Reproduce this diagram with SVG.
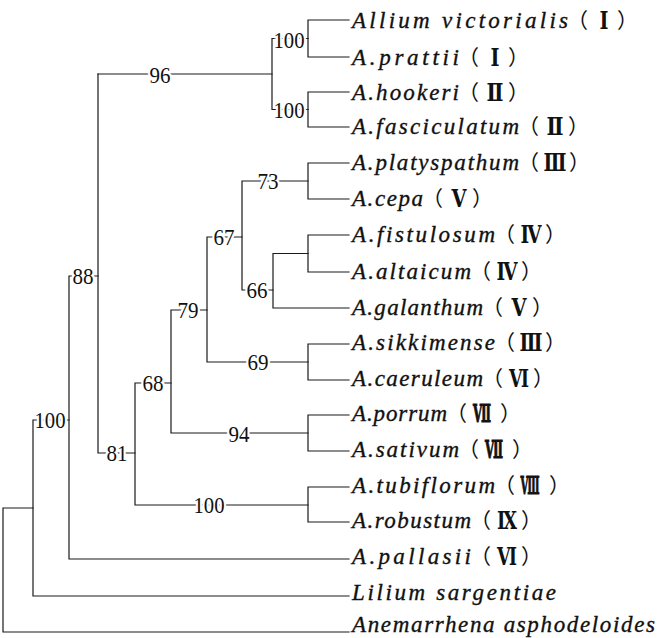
<svg xmlns="http://www.w3.org/2000/svg" width="665" height="638" viewBox="0 0 665 638">
  <style>
    .br { fill: none; stroke: #1a1a1a; stroke-width: 1.2; stroke-linecap: square; }
    .bs { font-family: "Liberation Serif", "Times New Roman", serif; font-size: 24px; fill: #111; text-anchor: middle; stroke: #fff; stroke-width: 5; paint-order: stroke; stroke-linejoin: round; }
    .sp { font-family: "Liberation Serif", "Times New Roman", serif; font-style: italic; font-size: 23px; fill: #111; stroke: #111; stroke-width: 0.35; }
    .pa { font-family: "Noto Sans CJK SC", sans-serif; font-size: 21px; fill: #111; }
    .rn { font-family: "Liberation Serif", "DejaVu Serif", "Noto Sans CJK SC", serif; font-weight: bold; font-size: 24px; fill: #111; text-anchor: middle; }
    .rn.hv { stroke: #111; stroke-width: 1.1; }
  </style>
  <rect width="665" height="638" fill="#fff"/>

  <!-- branches -->
  <g id="connectors" class="br">
    <!-- terminal pairs -->
    <path d="M349 20 H308 V57 H349"/>
    <path d="M349 92 H308 V127 H349"/>
    <path d="M349 163 H308 V199 H349"/>
    <path d="M349 235 H308 V272 H349"/>
    <path d="M349 344 H308 V380 H349"/>
    <path d="M349 415 H308 V451 H349"/>
    <path d="M349 487 H308 V522 H349"/>
    <!-- victorialis / hookeri clade -->
    <path d="M308 38.5 H272 V109.5 H308"/>
    <path d="M272 74 H98"/>
    <!-- cepa, porrum and tubiflorum groups -->
    <path d="M308 181 H242 V290 H273"/>
    <path d="M308 253.5 H273 V308 H349"/>
    <path d="M242 237 H207 V362 H308"/>
    <path d="M207 310 H171 V433 H308"/>
    <path d="M171 383 H135 V505 H308"/>
    <path d="M135 453 H98 V74"/>
    <!-- outgroups -->
    <path d="M98 276 H69 V559 H349"/>
    <path d="M69 420 H33 V596 H349"/>
    <path d="M33 508 H3 V632 H349"/>
  </g>

  <!-- support values -->
  <g id="support">
    <g id="n-96"><text class="bs" x="160" y="83" textLength="21" lengthAdjust="spacingAndGlyphs">96</text></g>
    <g id="n-100a"><text class="bs" x="289" y="48" textLength="31" lengthAdjust="spacingAndGlyphs">100</text></g>
    <g id="n-100b"><text class="bs" x="289" y="118" textLength="31" lengthAdjust="spacingAndGlyphs">100</text></g>
    <g id="n-73"><text class="bs" x="268" y="189" textLength="21" lengthAdjust="spacingAndGlyphs">73</text></g>
    <g id="n-67"><text class="bs" x="224" y="245" textLength="21" lengthAdjust="spacingAndGlyphs">67</text></g>
    <g id="n-66"><text class="bs" x="257" y="298" textLength="21" lengthAdjust="spacingAndGlyphs">66</text></g>
    <g id="n-79"><text class="bs" x="188" y="318" textLength="21" lengthAdjust="spacingAndGlyphs">79</text></g>
    <g id="n-69"><text class="bs" x="258" y="370" textLength="21" lengthAdjust="spacingAndGlyphs">69</text></g>
    <g id="n-68"><text class="bs" x="153" y="391" textLength="21" lengthAdjust="spacingAndGlyphs">68</text></g>
    <g id="n-94"><text class="bs" x="239" y="442" textLength="21" lengthAdjust="spacingAndGlyphs">94</text></g>
    <g id="n-81"><text class="bs" x="117" y="461" textLength="21" lengthAdjust="spacingAndGlyphs">81</text></g>
    <g id="n-100c"><text class="bs" x="209" y="513" textLength="31" lengthAdjust="spacingAndGlyphs">100</text></g>
    <g id="n-88"><text class="bs" x="83" y="284" textLength="21" lengthAdjust="spacingAndGlyphs">88</text></g>
    <g id="n-100d"><text class="bs" x="50" y="428" textLength="31" lengthAdjust="spacingAndGlyphs">100</text></g>
  </g>

  <!-- taxa: name, then clade numeral in brackets -->
  <g id="taxa">
    <g id="t-victorialis"><text class="sp" x="352" y="28" textLength="216">Allium victorialis</text><text class="pa" x="567" y="28">（</text><text class="rn" x="604" y="29" textLength="9" lengthAdjust="spacingAndGlyphs">Ⅰ</text><text class="pa" x="617" y="28">）</text></g>
    <g id="t-prattii"><text class="sp" x="352" y="65" textLength="107">A.prattii</text><text class="pa" x="458" y="65">（</text><text class="rn" x="495" y="66" textLength="9" lengthAdjust="spacingAndGlyphs">Ⅰ</text><text class="pa" x="508" y="65">）</text></g>
    <g id="t-hookeri"><text class="sp" x="352" y="100" textLength="107">A.hookeri</text><text class="pa" x="458" y="100">（</text><text class="rn" x="495" y="101" textLength="17" lengthAdjust="spacingAndGlyphs">Ⅱ</text><text class="pa" x="508" y="100">）</text></g>
    <g id="t-fasciculatum"><text class="sp" x="352" y="134" textLength="167">A.fasciculatum</text><text class="pa" x="518" y="134">（</text><text class="rn" x="555" y="135" textLength="17" lengthAdjust="spacingAndGlyphs">Ⅱ</text><text class="pa" x="568" y="134">）</text></g>
    <g id="t-platyspathum"><text class="sp" x="352" y="170" textLength="167">A.platyspathum</text><text class="pa" x="518" y="170">（</text><text class="rn" x="555" y="171" textLength="23" lengthAdjust="spacingAndGlyphs">Ⅲ</text><text class="pa" x="569" y="170">）</text></g>
    <g id="t-cepa"><text class="sp" x="352" y="206" textLength="71">A.cepa</text><text class="pa" x="422" y="206">（</text><text class="rn" x="459" y="207" textLength="15" lengthAdjust="spacingAndGlyphs">Ⅴ</text><text class="pa" x="472" y="206">）</text></g>
    <g id="t-fistulosum"><text class="sp" x="352" y="242" textLength="143">A.fistulosum</text><text class="pa" x="494" y="242">（</text><text class="rn" x="531" y="243" textLength="21" lengthAdjust="spacingAndGlyphs">Ⅳ</text><text class="pa" x="545" y="242">）</text></g>
    <g id="t-altaicum"><text class="sp" x="352" y="279" textLength="119">A.altaicum</text><text class="pa" x="470" y="279">（</text><text class="rn" x="507" y="280" textLength="21" lengthAdjust="spacingAndGlyphs">Ⅳ</text><text class="pa" x="521" y="279">）</text></g>
    <g id="t-galanthum"><text class="sp" x="352" y="315" textLength="131">A.galanthum</text><text class="pa" x="482" y="315">（</text><text class="rn" x="519" y="316" textLength="15" lengthAdjust="spacingAndGlyphs">Ⅴ</text><text class="pa" x="532" y="315">）</text></g>
    <g id="t-sikkimense"><text class="sp" x="352" y="350" textLength="143">A.sikkimense</text><text class="pa" x="494" y="350">（</text><text class="rn" x="531" y="351" textLength="23" lengthAdjust="spacingAndGlyphs">Ⅲ</text><text class="pa" x="545" y="350">）</text></g>
    <g id="t-caeruleum"><text class="sp" x="352" y="386" textLength="131">A.caeruleum</text><text class="pa" x="482" y="386">（</text><text class="rn" x="519" y="387" textLength="20" lengthAdjust="spacingAndGlyphs">Ⅵ</text><text class="pa" x="533" y="386">）</text></g>
    <g id="t-porrum"><text class="sp" x="352" y="421" textLength="95">A.porrum</text><text class="pa" x="446" y="421">（</text><text class="rn hv" x="482" y="422" textLength="18" lengthAdjust="spacingAndGlyphs">Ⅶ</text><text class="pa" x="500" y="421">）</text></g>
    <g id="t-sativum"><text class="sp" x="352" y="457" textLength="107">A.sativum</text><text class="pa" x="458" y="457">（</text><text class="rn hv" x="494" y="458" textLength="18" lengthAdjust="spacingAndGlyphs">Ⅶ</text><text class="pa" x="512" y="457">）</text></g>
    <g id="t-tubiflorum"><text class="sp" x="352" y="493" textLength="143">A.tubiflorum</text><text class="pa" x="494" y="493">（</text><text class="rn hv" x="530" y="494" textLength="19" lengthAdjust="spacingAndGlyphs">Ⅷ</text><text class="pa" x="549" y="493">）</text></g>
    <g id="t-robustum"><text class="sp" x="352" y="528" textLength="119">A.robustum</text><text class="pa" x="470" y="528">（</text><text class="rn" x="507" y="529" textLength="20" lengthAdjust="spacingAndGlyphs">Ⅸ</text><text class="pa" x="521" y="528">）</text></g>
    <g id="t-pallasii"><text class="sp" x="352" y="564" textLength="119">A.pallasii</text><text class="pa" x="470" y="564">（</text><text class="rn" x="507" y="565" textLength="20" lengthAdjust="spacingAndGlyphs">Ⅵ</text><text class="pa" x="521" y="564">）</text></g>
    <g id="t-lilium"><text class="sp" x="352" y="600" textLength="204">Lilium sargentiae</text></g>
    <g id="t-anemarrhena"><text class="sp" x="352" y="632" textLength="303">Anemarrhena asphodeloides</text></g>
  </g>
</svg>
